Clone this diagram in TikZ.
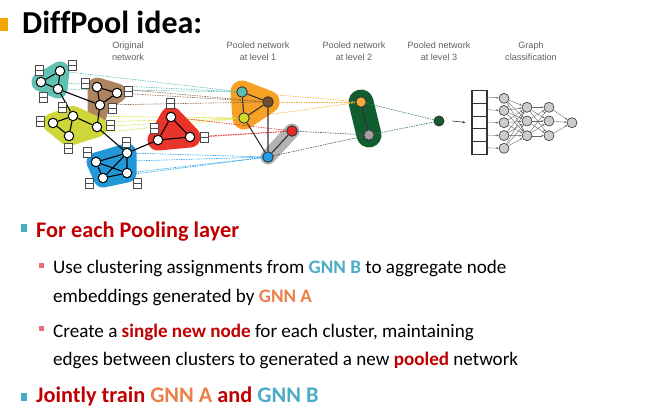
\documentclass[tikz,border=0pt]{standalone}
\usepackage{fontspec}
\setmainfont{Carlito}
\newfontfamily\labelfont{Liberation Sans}
\usetikzlibrary{arrows.meta,backgrounds}
\definecolor{TealBlob}{RGB}{96,192,178}
\definecolor{BrownBlob}{RGB}{172,132,96}
\definecolor{LimeBlob}{RGB}{206,214,58}
\definecolor{BlueBlob}{RGB}{34,152,216}
\definecolor{RedBlob}{RGB}{232,52,42}
\definecolor{OrangeBlob}{RGB}{246,160,36}
\definecolor{GrayBlob}{RGB}{178,178,178}
\definecolor{GreenBlob}{RGB}{16,94,48}
\definecolor{TealNode}{RGB}{88,190,180}
\definecolor{BrownNode}{RGB}{112,78,48}
\definecolor{LimeNode}{RGB}{212,222,40}
\definecolor{RedNode}{RGB}{232,40,40}
\definecolor{BlueNode}{RGB}{30,160,232}
\definecolor{OrangeNode}{RGB}{248,172,56}
\definecolor{GrayNode}{RGB}{160,160,160}
\definecolor{BrownLine}{RGB}{140,100,72}
\definecolor{DarkLine}{RGB}{80,80,80}
\definecolor{DeepRed}{RGB}{192,0,0}
\definecolor{GnnA}{RGB}{234,128,72}
\definecolor{GnnB}{RGB}{75,172,198}
\definecolor{PinkSq}{RGB}{232,112,124}
\definecolor{TitleSq}{RGB}{242,166,0}
\definecolor{LabelGray}{RGB}{96,96,96}
\newcommand{\featbox}[3]{%
  \node[featbox] (#1) at (#2,#3) {};
  \draw[black!70,line width=0.6pt] (#1.west)--(#1.east);}

\begin{document}
\begin{tikzpicture}[x=1pt,y=-1pt,
  onode/.style={circle,draw=black,line width=1pt,fill=white,inner sep=0pt,minimum size=9.5pt},
  pnode/.style={circle,draw=black!80,line width=0.9pt,inner sep=0pt,minimum size=10.5pt},
  cnode/.style={circle,draw=black!80,line width=0.6pt,fill=black!20,inner sep=0pt,minimum size=10pt},
  featbox/.style={rectangle,draw=black!70,fill=white,line width=0.7pt,inner sep=0pt,minimum width=8pt,minimum height=10pt},
  cell/.style={rectangle,draw=black!80,line width=1.2pt,inner sep=0pt,minimum width=15pt,minimum height=12.7pt},
  edge/.style={black,line width=1.1pt},
  dashline/.style={line width=0.6pt,dash pattern=on 1.5pt off 1pt},
  ffline/.style={black!60,line width=0.4pt,-{Stealth[length=2.5pt,width=2pt]}},
  toplabel/.style={align=center,text=LabelGray,font=\labelfont\fontsize{9.1}{11.5}\selectfont},
  txt/.style={anchor=base west,inner sep=0pt,font=\fontsize{19.1}{22}\selectfont},
  headtxt/.style={anchor=base west,inner sep=0pt,text=DeepRed,font=\fontsize{22.3}{26}\selectfont\bfseries}]
  \useasboundingbox (0,0) rectangle (656,413);

  % title
  \fill[TitleSq] (0,18) rectangle (8,31);
  \node[anchor=base west,inner sep=0pt,font=\fontsize{32}{36}\selectfont\bfseries] (title) at (22,33) {Dif\kern0ptfPool idea:};

  % column labels
  \node[toplabel] (lab0) at (128,51) {Original\\network};
  \node[toplabel] (lab1) at (258,51) {Pooled network\\at level 1};
  \node[toplabel] (lab2) at (354,51) {Pooled network\\at level 2};
  \node[toplabel] (lab3) at (439,51) {Pooled network\\at level 3};
  \node[toplabel] (lab4) at (531,51) {Graph\\classification};

  % original network
  \node[onode] (t1) at (60,71) {};
  \node[onode] (t2) at (41,82) {};
  \node[onode] (t3) at (58,89) {};
  \node[onode] (b1) at (97,87) {};
  \node[onode] (b2) at (117,93) {};
  \node[onode] (b3) at (100,105) {};
  \node[onode] (y1) at (53,123) {};
  \node[onode] (y2) at (73,116) {};
  \node[onode] (y3) at (69,136) {};
  \node[onode] (y4) at (97,127) {};
  \node[onode] (u1) at (127,153) {};
  \node[onode] (u2) at (96,162) {};
  \node[onode] (u3) at (127,173) {};
  \node[onode] (u4) at (103,178) {};
  \node[onode] (r1) at (171,117) {};
  \node[onode] (r2) at (158,140) {};
  \node[onode] (r3) at (190,137) {};
  \draw[edge] (t1)--(t2) (t2)--(t3) (t1)--(t3) (t3)--(b3) (t3)--(y2);
  \draw[edge] (b1)--(b2) (b1)--(b3) (b2)--(b3) (b3)--(y4);
  \draw[edge] (y1)--(y2) (y1)--(y3) (y2)--(y3) (y2)--(y4) (y4)--(u1);
  \draw[edge] (u1)--(u2) (u2)--(u4) (u4)--(u3) (u3)--(u1) (u2)--(u3) (u1)--(u4) (u1)--(r2);
  \draw[edge] (r1)--(r2) (r1)--(r3) (r2)--(r3);

  % node features
  \featbox{ft1}{39}{70}
  \featbox{ft2}{72}{65}
  \featbox{ft3}{43}{97}
  \featbox{fb1}{85}{83}
  \featbox{fb2}{128}{91}
  \featbox{fb3}{112}{108}
  \featbox{fy1}{62}{107}
  \featbox{fy2}{40}{121}
  \featbox{fy3}{68}{148}
  \featbox{fy4}{110}{125}
  \featbox{fu1}{126}{142}
  \featbox{fu2}{87}{152}
  \featbox{fu3}{89}{183}
  \featbox{fu4}{137}{183}
  \featbox{fr1}{170}{103}
  \featbox{fr2}{154}{128}
  \featbox{fr3}{204}{137}

  % pooled levels
  \node[pnode,fill=TealNode] (pT) at (242,92) {};
  \node[pnode,fill=BrownNode] (pB) at (268,102) {};
  \node[pnode,fill=LimeNode] (pY) at (244,118) {};
  \node[pnode,fill=RedNode] (pR) at (292,131) {};
  \node[pnode,fill=BlueNode] (pU) at (268,157) {};
  \draw[edge,black!80] (pT)--(pB) (pT)--(pY) (pB)--(pY) (pY)--(pU) (pB)--(pU) (pR)--(pU);
  \node[pnode,fill=OrangeNode] (qO) at (361,102) {};
  \node[pnode,fill=GrayNode] (qG) at (369,135) {};
  \draw[edge,black!80] (qO)--(qG);
  \node[pnode,fill=GreenBlob,minimum size=10pt] (s) at (439,121) {};

  \begin{pgfonlayer}{background}
    \filldraw[OrangeBlob,line width=23pt,line join=round] (pT.center)--(pB.center)--(pY.center)--cycle;
    \draw[GrayBlob,line width=15pt,line cap=round] (pR.center)--(pU.center);
    \draw[GreenBlob,line width=25pt,line cap=round] (qO.center)--(qG.center);
    \foreach \n in {t1,t2,t3} \draw[dashline,TealNode] (\n)--(pT);
    \foreach \n in {b1,b2,b3} \draw[dashline,BrownLine] (\n)--(pB);
    \foreach \n in {y1,y2,y3,y4} \draw[dashline,LimeNode] (\n)--(pY);
    \foreach \n in {r1,r2,r3} \draw[dashline,RedNode] (\n)--(pR);
    \foreach \n in {u1,u2,u3,u4} \draw[dashline,BlueNode] (\n)--(pU);
    \foreach \n in {pT,pB,pY} \draw[dashline,OrangeNode] (\n)--(qO);
    \foreach \n in {pR,pU} \draw[dashline,DarkLine] (\n)--(qG);
    \foreach \n in {qO,qG} \draw[dashline,GreenBlob!80] (\n)--(s);
    \filldraw[TealBlob,line width=19pt,line join=round] (t1.center)--(t2.center)--(t3.center)--cycle;
    \filldraw[BrownBlob,line width=19pt,line join=round] (b1.center)--(b2.center)--(b3.center)--(97,116)--cycle;
    \filldraw[LimeBlob,line width=20pt,line join=round] (y1.center)--(y2.center)--(y4.center)--(y3.center)--cycle;
    \filldraw[BlueBlob,line width=19pt,line join=round] (u1.center)--(u2.center)--(u4.center)--(u3.center)--cycle;
    \filldraw[RedBlob,line width=21pt,line join=round] (r1.center)--(r2.center)--(r3.center)--cycle;
  \end{pgfonlayer}

  % graph classification
  \foreach \i in {1,...,5}
    \node[cell] (c\i) at (479.5,{84.35+12.7*\i}) {};
  \draw[black!80,line width=0.6pt,-{Stealth[length=3pt,width=2.5pt]}] ([xshift=8pt]s.east)--([xshift=-6pt]c3.west);
  \foreach \i/\y in {1/98.3,2/110.5,3/122.7,4/135.5,5/148.3}
    \node[cnode] (h\i) at (504,\y) {};
  \foreach \i/\y in {1/107.3,2/121,3/135.7}{
    \node[cnode] (k\i) at (527,\y) {};
    \node[cnode] (m\i) at (549,\y) {};}
  \node[cnode] (out) at (572,122.7) {};
  \foreach \i in {1,...,5} \draw[ffline] (c\i.east)--(h\i);
  \foreach \i in {1,...,5}
    \foreach \j in {1,2,3} \draw[ffline] (h\i)--(k\j);
  \foreach \i in {1,2,3}
    \foreach \j in {1,2,3} \draw[ffline] (k\i)--(m\j);
  \foreach \i in {1,2,3} \draw[ffline] (m\i)--(out);

  % bullet text
  \fill[GnnB] (21,224) rectangle (26.5,231.5);
  \node[headtxt] (head1) at (36,237) {For each Pooling layer};
  \fill[PinkSq] (39.3,262.7) rectangle (44.3,268.3);
  \node[txt] (line1) at (53,273) {Use clustering assignments from {\bfseries\color{GnnB}GNN B} to aggregate node};
  \node[txt] (line2) at (53,302) {embeddings generated by {\bfseries\color{GnnA}GNN A}};
  \fill[PinkSq] (39.3,325.5) rectangle (44.3,331);
  \node[txt] (line3) at (53,337) {Create a {\bfseries\color{DeepRed}single new node} for each cluster, maintaining};
  \node[txt] (line4) at (53,365) {edges between clusters to generated a new {\bfseries\color{DeepRed}pooled} network};
  \fill[GnnB] (21,393) rectangle (26.5,400.5);
  \node[headtxt] (head2) at (36,402) {Jointly train {\color{GnnA}GNN A} and {\color{GnnB}GNN B}};
\end{tikzpicture}
\end{document}
